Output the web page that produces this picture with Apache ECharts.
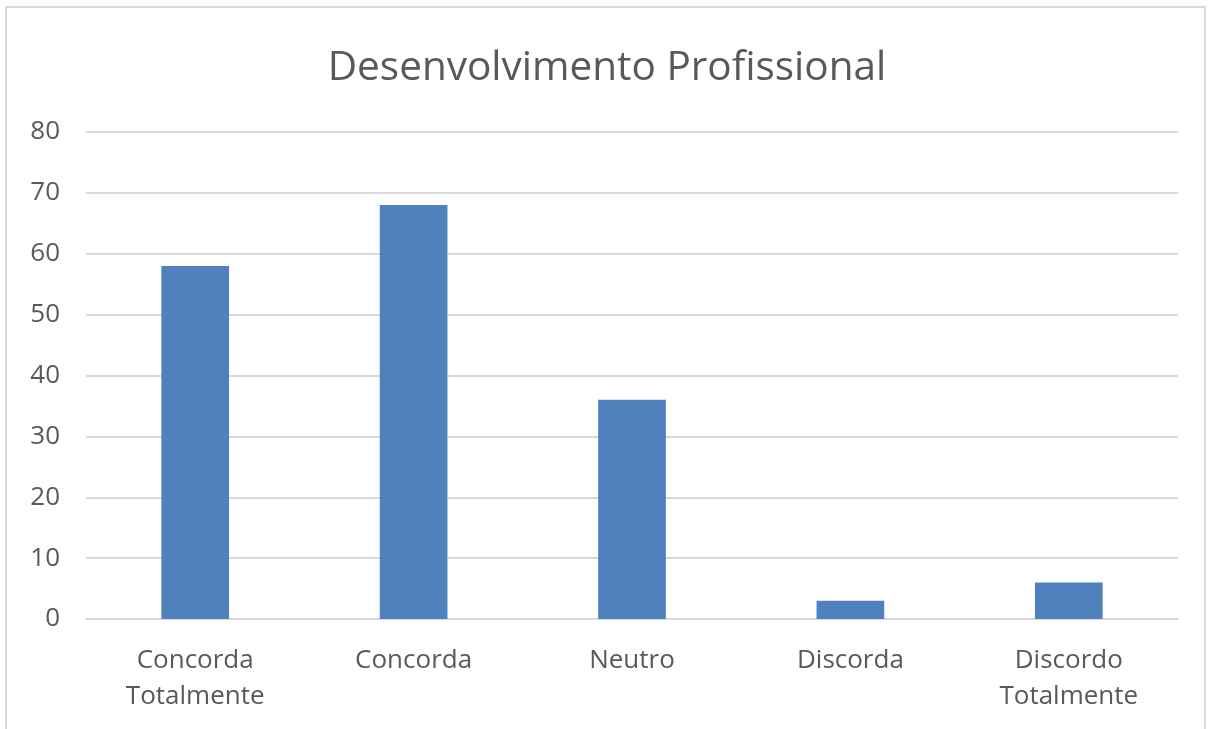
<!DOCTYPE html>
<html>
<head>
<meta charset="utf-8">
<script src="https://cdn.jsdelivr.net/npm/echarts@6/dist/echarts.min.js"></script>
<style>
html,body{margin:0;padding:0;background:#fff;}
#frame{position:absolute;left:5px;top:6px;width:1201px;height:740px;border:2px solid #d9d9d9;box-sizing:border-box;}
#chart{position:absolute;left:0;top:0;width:1214px;height:729px;}
</style>
</head>
<body>
<div id="frame"></div>
<div id="chart"></div>
<script>
const title = 'Desenvolvimento Profissional';
const categories = ['Concorda\nTotalmente', 'Concorda', 'Neutro', 'Discorda', 'Discordo\nTotalmente'];
const values = [58, 68, 36, 3, 6];

const chart = echarts.init(document.getElementById('chart'));
chart.setOption({
  animation: false,
  title: {
    text: title,
    left: 'center',
    top: 43,
    textStyle: {fontFamily: 'Open Sans', fontSize: 40.5, fontWeight: 'normal', color: '#595959'}
  },
  grid: {left: 86, right: 36, top: 132, bottom: 110, containLabel: false},
  xAxis: {
    type: 'category',
    data: categories,
    axisLine: {lineStyle: {color: '#d9d9d9', width: 2}},
    axisTick: {show: false},
    axisLabel: {fontFamily: 'Open Sans', fontSize: 26, color: '#595959', margin: 24, lineHeight: 36}
  },
  yAxis: {
    type: 'value',
    min: 0, max: 80, interval: 10,
    axisLine: {show: false},
    axisTick: {show: false},
    splitLine: {lineStyle: {color: '#d9d9d9', width: 2}},
    axisLabel: {fontFamily: 'Open Sans', fontSize: 26, color: '#595959', margin: 26}
  },
  series: [{
    type: 'bar',
    data: values,
    barWidth: '31%',
    itemStyle: {color: '#4f81bd'}
  }]
});
</script>
</body>
</html>
